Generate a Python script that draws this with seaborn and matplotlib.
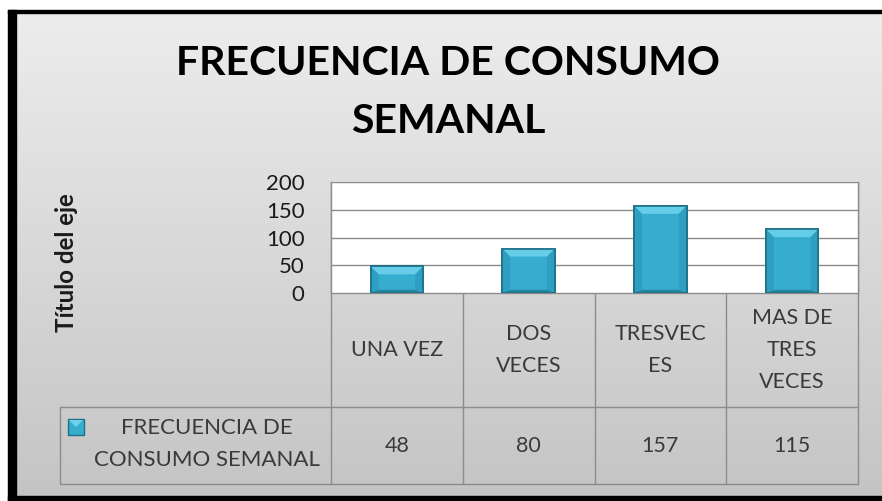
import numpy as np
import pandas as pd
import matplotlib
matplotlib.use("Agg")
import matplotlib.pyplot as plt
from matplotlib.patches import Rectangle, Polygon
from matplotlib.colors import LinearSegmentedColormap
import seaborn as sns

# ---- data ----
categories = ["UNA VEZ", "DOS VECES", "TRESVECES", "MAS DE TRES VECES"]
cat_labels = ["UNA VEZ", "DOS\nVECES", "TRESVEC\nES", "MAS DE\nTRES\nVECES"]
values = [48, 80, 157, 115]
series_name = "FRECUENCIA DE CONSUMO SEMANAL"
legend_label = "FRECUENCIA DE\nCONSUMO SEMANAL"
title = "FRECUENCIA DE CONSUMO\nSEMANAL"
y_ticks = [0, 50, 100, 150, 200]
y_title = "Título del eje"

df = pd.DataFrame({"cat": categories, "val": values})

sns.set_theme(style="white")
plt.rcParams["font.family"] = ["Lato", "DejaVu Sans"]

W, H = 882, 501
fig = plt.figure(figsize=(W / 100, H / 100), dpi=100, facecolor="white")

# layout in pixels
PL, PR, PT, PB = 331, 858, 182, 293      # plot area
ROW1, ROW2 = 407, 484                    # table row bottoms
LEG_L = 60
grid_c = "#8c8c8c"
text_c = "#3a3a3a"
bar_c = "#36adce"
edge_c = "#1d7088"

# background / overlay axes (pixel coords)
ov = fig.add_axes([0, 0, 1, 1], zorder=0)
ov.set_xlim(0, W)
ov.set_ylim(H, 0)
ov.axis("off")
cmap = LinearSegmentedColormap.from_list("bg", ["#ededed", "#c4c4c4"])
grad = np.linspace(0, 1, 256).reshape(-1, 1)
ov.imshow(grad, cmap=cmap, extent=(8, W, H, 10), aspect="auto", zorder=0)
# black frame
ov.add_patch(Rectangle((8, 10), 8, H - 10, color="black", zorder=5))
ov.add_patch(Rectangle((8, 10), W - 8, 3, color="black", zorder=5))
ov.add_patch(Rectangle((8, 496), W - 8, 5, color="black", zorder=5))

# title
ov.text(448, 92.5, title, ha="center", va="center", fontsize=29.5,
        fontweight="bold", color="black", linespacing=1.71)
# y axis title
ov.text(67, 263, y_title, ha="center", va="center", rotation=90,
        fontsize=17.3, fontweight="bold", color="#1a1a1a")

# table
n = len(categories)
edges = [PL + i * (PR - PL) / n for i in range(n + 1)]
lw = 1.0
ov.plot([PL, PR], [PB, PB], color=grid_c, lw=lw, zorder=2)
ov.plot([LEG_L, PR], [ROW1, ROW1], color=grid_c, lw=lw, zorder=2)
ov.plot([LEG_L, PR], [ROW2, ROW2], color=grid_c, lw=lw, zorder=2)
ov.plot([LEG_L, LEG_L], [ROW1, ROW2], color=grid_c, lw=lw, zorder=2)
for i, e in enumerate(edges):
    top = PT if i in (0, n) else PB
    ov.plot([e, e], [top, ROW2], color=grid_c, lw=lw, zorder=2)
for i in range(n):
    cx = (edges[i] + edges[i + 1]) / 2
    ov.text(cx, (PB + ROW1) / 2, cat_labels[i], ha="center", va="center",
            fontsize=15.5, color=text_c, linespacing=1.75)
    ov.text(cx, (ROW1 + ROW2) / 2, str(values[i]), ha="center", va="center",
            fontsize=15.5, color=text_c)
# legend key + label
ov.add_patch(Rectangle((68, 419), 16, 16, facecolor=bar_c,
                       edgecolor=edge_c, lw=1, zorder=3))
ov.add_patch(Polygon([(69, 420), (83, 420), (76, 427)], closed=True,
                     facecolor="#6fd3ec", edgecolor="none", zorder=4))
ov.text(207, 444, legend_label, ha="center", va="center", fontsize=16,
        color=text_c, linespacing=1.75)

# bar plot axes
ax = fig.add_axes([PL / W, (H - PB) / H, (PR - PL) / W, (PB - PT) / H], zorder=1)
ax.set_facecolor("white")
sns.barplot(data=df, x="cat", y="val", ax=ax, width=0.4, color=bar_c,
            edgecolor=edge_c, linewidth=1.2, saturation=1, zorder=3)
ax.set_ylim(0, 200)
ax.set_yticks(y_ticks)
ax.set_yticklabels([str(t) for t in y_ticks], fontsize=16, color="#1a1a1a")
ax.tick_params(axis="y", length=0, pad=19)
ax.set_xticks([])
ax.set_xlabel("")
ax.set_ylabel("")
ax.yaxis.grid(True, color=grid_c, lw=1)
ax.set_axisbelow(True)
for s in ["top", "bottom"]:
    ax.spines[s].set_visible(False)
for s in ["left", "right"]:
    ax.spines[s].set_color(grid_c)
    ax.spines[s].set_linewidth(1)

# bevel shading derived from each bar patch
ppx = ax.transData.transform([(1, 0)])[0][0] - ax.transData.transform([(0, 0)])[0][0]
ppy = ax.transData.transform([(0, 1)])[0][1] - ax.transData.transform([(0, 0)])[0][1]
for p in list(ax.patches):
    x0, y0 = p.get_x(), p.get_y()
    x1, y1 = x0 + p.get_width(), y0 + p.get_height()
    dpx = min(8, p.get_height() * ppy / 3)
    dx, dy = dpx / ppx, dpx / ppy
    dyb = dy * 0.4
    shapes = [
        ([(x0, y1), (x1, y1), (x1 - dx, y1 - dy), (x0 + dx, y1 - dy)], "#66cde8"),
        ([(x0, y0), (x0, y1), (x0 + dx, y1 - dy), (x0 + dx, y0 + dyb)], "#2e9fc0"),
        ([(x1, y0), (x1, y1), (x1 - dx, y1 - dy), (x1 - dx, y0 + dyb)], "#2e9fc0"),
        ([(x0, y0), (x1, y0), (x1 - dx, y0 + dyb), (x0 + dx, y0 + dyb)], "#23859f"),
    ]
    for pts, c in shapes:
        ax.add_patch(Polygon(pts, closed=True, facecolor=c, edgecolor="none",
                             zorder=3.5))
    ax.add_patch(Rectangle((x0, y0), x1 - x0, y1 - y0, facecolor="none",
                           edgecolor=edge_c, lw=1.2, zorder=4))

fig.savefig("out.png", dpi=100, facecolor="white")
